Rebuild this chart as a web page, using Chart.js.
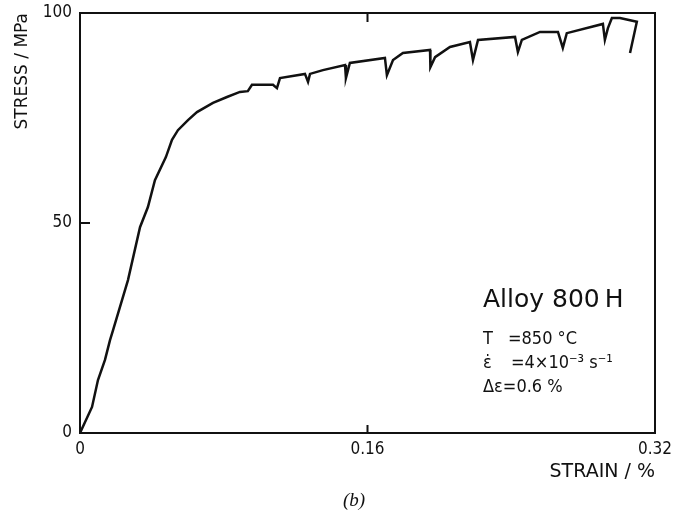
<!DOCTYPE html>
<html lang="en">
<head>
  <meta charset="UTF-8">
  <title>Alloy 800 H</title>
  <style>
    html, body { margin: 0; padding: 0; background: #fff; }
    #wrap { width: 676px; height: 517px; }
  </style>
</head>
<body>
  <div id="wrap"><canvas id="myChart" width="676" height="517"></canvas></div>

  <script src="https://cdn.jsdelivr.net/npm/chart.js"></script>
  <script>
    // strain in %, stress in MPa (serrations included)
    const strain = [
      0, 0.0067, 0.0100, 0.0139, 0.0167, 0.0184, 0.0267, 0.0334, 0.0378, 0.0417,
      0.0478, 0.0512, 0.0545, 0.0601, 0.0651, 0.0740, 0.0818, 0.0890, 0.0934, 0.0957,
      0.1074, 0.1096, 0.1113, 0.1252, 0.1269, 0.1280, 0.1352, 0.1475, 0.1480, 0.1502,
      0.1697, 0.1708, 0.1742, 0.1797, 0.1948, 0.1950, 0.1976, 0.2059, 0.2170, 0.2187,
      0.2215, 0.2421, 0.2437, 0.2459, 0.2560, 0.2660, 0.2687, 0.2709, 0.2910, 0.2921,
      0.2938, 0.2960, 0.3005, 0.3099, 0.3061
    ];
    const stress = [
      0, 6.2, 12.6, 17.4, 22.1, 24.5, 36.4, 49.0, 53.8, 60.2,
      65.7, 69.8, 72.1, 74.5, 76.4, 78.6, 80.0, 81.2, 81.4, 82.9,
      82.9, 82.1, 84.5, 85.5, 83.6, 85.5, 86.4, 87.6, 84.5, 88.1,
      89.3, 85.2, 88.8, 90.5, 91.2, 87.1, 89.5, 91.9, 93.1, 88.8,
      93.6, 94.3, 90.7, 93.6, 95.5, 95.5, 91.7, 95.2, 97.4, 93.6,
      96.4, 98.8, 98.8, 97.9, 90.5
    ];
    const xTicks = [0, 0.16, 0.32];
    const xTickLabels = ['0', '0.16', '0.32'];
    const yTicks = [0, 50, 100];
    const yTickLabels = ['0', '50', '100'];

    const black = '#111';

    // frame, inward tick marks, annotation text
    const decor = {
      id: 'decor',
      afterDraw(chart) {
        const {ctx, chartArea: a, scales: {x, y}} = chart;
        ctx.save();
        ctx.strokeStyle = black;
        ctx.lineWidth = 2;
        ctx.strokeRect(a.left, a.top, a.right - a.left, a.bottom - a.top);

        ctx.beginPath();
        xTicks.slice(1, -1).forEach(v => {
          const px = x.getPixelForValue(v);
          ctx.moveTo(px, a.bottom); ctx.lineTo(px, a.bottom - 8);
          ctx.moveTo(px, a.top); ctx.lineTo(px, a.top + 9);
        });
        yTicks.slice(1, -1).forEach(v => {
          const py = y.getPixelForValue(v);
          ctx.moveTo(a.left, py); ctx.lineTo(a.left + 10, py);
        });
        ctx.stroke();

        ctx.fillStyle = black;
        ctx.textBaseline = 'alphabetic';
        ctx.textAlign = 'left';
        ctx.font = '25px "DejaVu Sans"';
        ctx.fillText('Alloy 800\u2009H', 483, 307);
        ctx.font = '18px "DejaVu Sans Condensed"';
        ctx.fillText('T', 483, 344);
        ctx.fillText('=850 °C', 508, 344);
        ctx.fillText('\u03B5\u0307', 483, 368);
        ctx.fillText('=4×10⁻³ s⁻¹', 511, 368);
        ctx.fillText('Δε=0.6 %', 483, 392);

        ctx.textAlign = 'center';
        ctx.font = 'italic 19px "Liberation Serif"';
        ctx.fillText('(b)', 354, 506);
        ctx.restore();
      }
    };

    const ctx = document.getElementById('myChart');

    new Chart(ctx, {
      type: 'scatter',
      data: {
        datasets: [{
          data: strain.map((s, i) => ({x: s, y: stress[i]})),
          showLine: true,
          fill: false,
          borderColor: black,
          borderWidth: 2.5,
          pointRadius: 0,
          tension: 0
        }]
      },
      options: {
        responsive: false,
        animation: false,
        layout: {padding: {left: 0, right: 21, top: 13, bottom: 33}},
        plugins: {legend: {display: false}, tooltip: {enabled: false}},
        scales: {
          x: {
            type: 'linear',
            min: 0,
            max: 0.32,
            grid: {display: false, drawTicks: false},
            border: {display: false},
            afterBuildTicks: s => { s.ticks = xTicks.map(v => ({value: v})); },
            afterFit: s => { s.height = 51; s.paddingLeft = 0; s.paddingRight = 0; },
            ticks: {
              padding: 6,
              color: black,
              font: {family: '"DejaVu Sans Condensed"', size: 17},
              callback: (v, i) => xTickLabels[i]
            },
            title: {
              display: true,
              text: 'STRAIN / %',
              align: 'end',
              color: black,
              padding: {top: 0, bottom: 1},
              font: {family: '"DejaVu Sans"', size: 19}
            }
          },
          y: {
            min: 0,
            max: 100,
            grid: {display: false, drawTicks: false},
            border: {display: false},
            afterBuildTicks: s => { s.ticks = yTicks.map(v => ({value: v})); },
            afterFit: s => { s.width = 80; s.paddingTop = 0; s.paddingBottom = 0; },
            ticks: {
              padding: 8,
              color: black,
              font: {family: '"DejaVu Sans Condensed"', size: 17},
              callback: (v, i) => yTickLabels[i]
            },
            title: {
              display: true,
              text: 'STRESS / MPa',
              align: 'end',
              color: black,
              padding: {top: 12, bottom: 0},
              font: {family: '"DejaVu Sans"', size: 17}
            }
          }
        }
      },
      plugins: [decor]
    });
  </script>
</body>
</html>
